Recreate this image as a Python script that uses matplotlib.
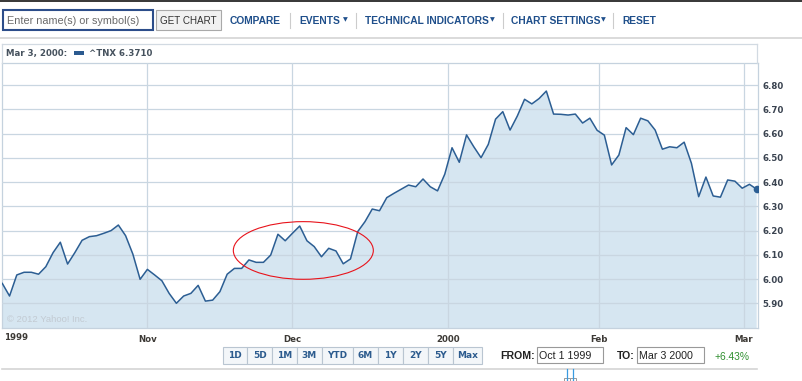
import matplotlib
matplotlib.use("Agg")
import matplotlib.pyplot as plt
from matplotlib.patches import Rectangle, Ellipse
from matplotlib.lines import Line2D

# ---------------- data ----------------
yields = [5.982, 5.930, 6.017, 6.028, 6.028, 6.020, 6.051, 6.109, 6.152, 6.062,
          6.109, 6.160, 6.175, 6.179, 6.189, 6.200, 6.223, 6.179, 6.103, 5.999,
          6.040, 6.017, 5.993, 5.941, 5.900, 5.930, 5.941, 5.974, 5.909, 5.913,
          5.948, 6.020, 6.044, 6.044, 6.079, 6.069, 6.069, 6.099, 6.185, 6.158,
          6.189, 6.219, 6.158, 6.134, 6.092, 6.127, 6.116, 6.063, 6.083, 6.196,
          6.237, 6.289, 6.282, 6.336, 6.354, 6.371, 6.388, 6.381, 6.413, 6.381,
          6.364, 6.433, 6.542, 6.482, 6.595, 6.546, 6.501, 6.556, 6.660, 6.691,
          6.615, 6.673, 6.742, 6.723, 6.745, 6.776, 6.681, 6.680, 6.677, 6.681,
          6.644, 6.664, 6.614, 6.594, 6.471, 6.512, 6.625, 6.596, 6.664, 6.653,
          6.615, 6.536, 6.546, 6.542, 6.565, 6.478, 6.340, 6.421, 6.343, 6.338,
          6.409, 6.404, 6.375, 6.391, 6.371]
month_labels = ["Nov", "Dec", "2000", "Feb", "Mar"]
month_pos = [20, 40, 61.5, 82.25, 102.25]
y_ticks = [5.90, 6.00, 6.10, 6.20, 6.30, 6.40, 6.50, 6.60, 6.70, 6.80]
range_buttons = ["1D", "5D", "1M", "3M", "YTD", "6M", "1Y", "2Y", "5Y", "Max"]
legend_date = "Mar 3, 2000:"
legend_series = "^TNX 6.3710"
from_date = "Oct 1 1999"
to_date = "Mar 3 2000"
change_text = "+6.43%"
# highlight ellipse (data coords): centre x, centre y, width, height
highlight = (41.5, 6.118, 19.3, 0.238)

# ---------------- figure ----------------
W, H = 803, 381
fig = plt.figure(figsize=(W / 100, H / 100), dpi=100)
fig.patch.set_facecolor("white")

def fx(x):
    return x / W

def fy(y):
    return 1 - y / H

def T(x, y, s, **kw):
    kw.setdefault("va", "center")
    return fig.text(fx(x), fy(y), s, **kw)

def rect(x0, y0, x1, y1, **kw):
    r = Rectangle((fx(x0), fy(y1)), (x1 - x0) / W, (y1 - y0) / H,
                  transform=fig.transFigure, **kw)
    fig.add_artist(r)
    return r

def hline(x0, x1, y, **kw):
    fig.add_artist(Line2D([fx(x0), fx(x1)], [fy(y), fy(y)], transform=fig.transFigure, **kw))

def vline(x, y0, y1, **kw):
    fig.add_artist(Line2D([fx(x), fx(x)], [fy(y0), fy(y1)], transform=fig.transFigure, **kw))

ARIAL = "Liberation Sans"
VERD = "DejaVu Sans"
BLUE_TXT = "#1f4f8b"
DARK = "#3a4350"
MENU_FS = 7.35

# ---------------- toolbar ----------------
hline(0, W, 0.6, color="black", lw=1.1)
rect(3, 10, 153, 30, fc="white", ec="#2c4d8a", lw=1.5)
T(7, 20.5, "Enter name(s) or symbol(s)", family=ARIAL, fontsize=7.8, color="#6a6a6a")
rect(156, 10, 221, 30, fc="#f1f1f1", ec="#a9a9a9", lw=0.8)
T(188.5, 20.5, "GET CHART", family=ARIAL, fontsize=7.1, color="#333333", ha="center")

T(230, 20.5, "COMPARE", family=ARIAL, fontsize=MENU_FS, weight="bold", color=BLUE_TXT)
vline(290.3, 13, 28, color="#cccccc", lw=0.8)
T(299, 20.5, "EVENTS", family=ARIAL, fontsize=MENU_FS, weight="bold", color=BLUE_TXT)
T(345, 20, "\u25BC", family=VERD, fontsize=4.5, color=BLUE_TXT, ha="center")
vline(356, 13, 28, color="#cccccc", lw=0.8)
T(365, 20.5, "TECHNICAL INDICATORS", family=ARIAL, fontsize=MENU_FS, weight="bold", color=BLUE_TXT)
T(492, 20, "\u25BC", family=VERD, fontsize=4.5, color=BLUE_TXT, ha="center")
vline(502.7, 13, 28, color="#cccccc", lw=0.8)
T(511, 20.5, "CHART SETTINGS", family=ARIAL, fontsize=MENU_FS, weight="bold", color=BLUE_TXT)
T(603, 20, "\u25BC", family=VERD, fontsize=4.5, color=BLUE_TXT, ha="center")
vline(613, 13, 28, color="#cccccc", lw=0.8)
T(622, 20.5, "RESET", family=ARIAL, fontsize=MENU_FS, weight="bold", color=BLUE_TXT)
hline(0, W, 38.3, color="#d4d4d4", lw=1.2)

# ---------------- header box ----------------
BOX = "#d2dae2"
hline(2, 757.3, 44.3, color=BOX, lw=0.9)
vline(2.3, 44.3, 63, color=BOX, lw=0.9)
vline(757.3, 44.3, 63, color=BOX, lw=0.9)
T(6, 53.5, legend_date, family=VERD, fontsize=6.2, weight="bold", color="#46525e")
rect(74, 51.5, 84, 55, fc="#2b5a8f", ec="none")
T(89, 53.5, legend_series, family=VERD, fontsize=6.2, weight="bold", color="#46525e")

# ---------------- chart ----------------
ax = fig.add_axes([fx(2), fy(328), (758 - 2) / W, (328 - 62.7) / H])
x = list(range(len(yields)))
ax.fill_between(x, yields, 5.0, color="#d6e6f1", lw=0, zorder=1)
ax.plot(x, yields, color="#2c5e93", lw=1.1, zorder=3)
ax.plot([x[-1]], [yields[-1]], "o", ms=4.5, color="#2c5e93", zorder=4)
ax.set_xlim(-0.04, 104.18)
ax.set_ylim(5.798, 6.893)
ax.set_yticks(y_ticks)
ax.set_yticklabels([f"{v:.2f}" for v in y_ticks])
ax.set_xticks(month_pos)
ax.set_xticklabels(month_labels)
ax.yaxis.tick_right()
ax.tick_params(axis="y", length=0, pad=3, labelsize=6.2, labelcolor=DARK)
ax.tick_params(axis="x", length=0, pad=5, labelsize=6.2, labelcolor="#3d3a36")
for lbl in ax.get_xticklabels() + ax.get_yticklabels():
    lbl.set_fontweight("bold")
    lbl.set_family(VERD)
ax.grid(True, color="#c9d6e1", lw=0.9, zorder=2)
ax.set_axisbelow(False)
for sp in ax.spines.values():
    sp.set_color("#c5d2de")
    sp.set_linewidth(0.9)
ax.set_facecolor("white")
cx, cy, ew, eh = highlight
ax.add_patch(Ellipse((cx, cy), ew, eh, fill=False, ec="#e8131b", lw=0.8, zorder=5))
T(7, 320, "\u00A9 2012 Yahoo! Inc.", family=ARIAL, fontsize=6.8, color="#c2cad2")
T(4, 338, "1999", family=VERD, fontsize=6.2, weight="bold", color="#3d3a36")

# ---------------- bottom controls ----------------
edges = [223, 247.5, 272, 297, 322, 353, 378, 403, 428, 453, 482]
for i, lab in enumerate(range_buttons):
    rect(edges[i], 347.3, edges[i + 1], 364, fc="#f3f6f9", ec="#b9c5d1", lw=0.8)
    T((edges[i] + edges[i + 1]) / 2, 356, lab, family=VERD, fontsize=6.5,
      weight="bold", color="#2c5b8e", ha="center")
T(500, 356, "FROM:", family=ARIAL, fontsize=7.6, weight="bold", color="#222222")
rect(536.7, 347.3, 603.3, 363.3, fc="white", ec="#999999", lw=0.8)
T(539.5, 356, from_date, family=ARIAL, fontsize=7.7, color="#222222")
T(616.7, 356, "TO:", family=ARIAL, fontsize=7.6, weight="bold", color="#222222")
rect(636.7, 347.3, 704, 363.3, fc="white", ec="#999999", lw=0.8)
T(639.5, 356, to_date, family=ARIAL, fontsize=7.7, color="#222222")
T(714.5, 356.5, change_text, family=ARIAL, fontsize=7.4, color="#2f8f2f")
hline(2, 757.3, 368.5, color="#d4d4d4", lw=1.2)

# navigator handles
vline(566.7, 369, 381, color="#3a9be0", lw=0.9)
vline(573.3, 369, 381, color="#3a9be0", lw=0.9)
rect(563.5, 377.5, 570, 382, fc="white", ec="#999999", lw=0.7)
rect(570, 377.5, 576.5, 382, fc="white", ec="#999999", lw=0.7)

fig.savefig("out.png", dpi=100)
